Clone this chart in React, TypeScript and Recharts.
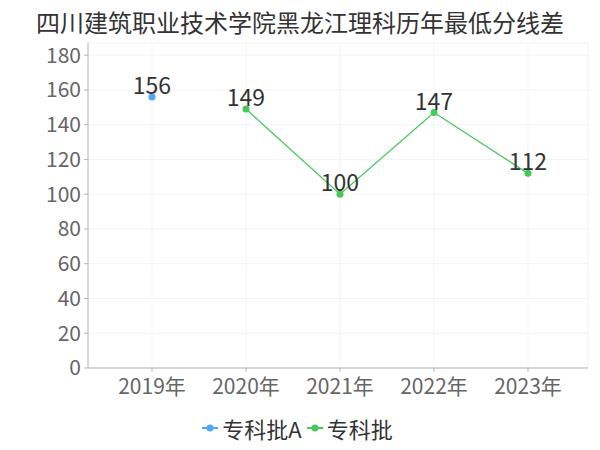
import { LineChart, Line, XAxis, YAxis, CartesianGrid, LabelList } from "recharts";

const years = ["2019年", "2020年", "2021年", "2022年", "2023年"];
const seriesA = [156, null, null, null, null];
const seriesB = [null, 149, 100, 147, 112];
const yTicks = [0, 20, 40, 60, 80, 100, 120, 140, 160, 180];

const BLUE = "#4ea8f7";
const GREEN = "#45c85a";
const FONT = '"Noto Sans CJK SC", "Noto Sans", sans-serif';

const data = years.map((year, i) => ({ year, a: seriesA[i], b: seriesB[i] }));

function LegendItem({ color, label }: { color: string; label: string }) {
  return (
    <span style={{ display: "inline-flex", alignItems: "center", marginRight: 5 }}>
      <svg width={16} height={10} style={{ marginRight: 4 }}>
        <line x1={0} y1={5} x2={16} y2={5} stroke={color} strokeWidth={2} />
        <circle cx={8} cy={5} r={3.5} fill={color} />
      </svg>
      <span>{label}</span>
    </span>
  );
}

export default function App() {
  return (
    <div style={{ position: "relative", width: 600, height: 450, margin: -8, fontFamily: FONT, background: "#fff" }}>
      <div
        style={{
          position: "absolute", top: 4, left: 0, width: 600, textAlign: "center",
          fontSize: 24, color: "#333",
        }}
      >
        四川建筑职业技术学院黑龙江理科历年最低分线差
      </div>
      <LineChart width={600} height={450} data={data} margin={{ top: 43, right: 12, bottom: 52, left: 0 }}>
        <CartesianGrid stroke="#f3f3f3" vertical horizontal />
        <XAxis
          dataKey="year"
          padding={{ left: 64, right: 60 }}
          height={30}
          tick={{ fill: "#666", fontSize: 21, fontFamily: FONT }}
          tickSize={4}
          tickMargin={7}
          stroke="#b5b5b5"
        />
        <YAxis
          width={88}
          domain={[0, 187]}
          ticks={yTicks}
          interval={0}
          tick={{ fill: "#666", fontSize: 21, fontFamily: FONT }}
          tickSize={4}
          tickMargin={3}
          stroke="#b5b5b5"
        />
        <Line
          dataKey="a"
          name="专科批A"
          stroke={BLUE}
          strokeWidth={1.3}
          dot={{ r: 3.5, fill: BLUE, stroke: BLUE, strokeWidth: 0 }}
          isAnimationActive={false}
        >
          <LabelList dataKey="a" position="top" offset={3} fill="#333" fontSize={23} fontFamily={FONT} />
        </Line>
        <Line
          dataKey="b"
          name="专科批"
          stroke={GREEN}
          strokeWidth={1.3}
          dot={{ r: 3.5, fill: GREEN, stroke: GREEN, strokeWidth: 0 }}
          isAnimationActive={false}
        >
          <LabelList dataKey="b" position="top" offset={3} fill="#333" fontSize={23} fontFamily={FONT} />
        </Line>
      </LineChart>
      <div
        style={{
          position: "absolute", top: 412, left: 0, width: 600, height: 32, display: "flex",
          justifyContent: "center", alignItems: "center", fontSize: 22, lineHeight: "32px", color: "#333",
        }}
      >
        <LegendItem color={BLUE} label="专科批A" />
        <LegendItem color={GREEN} label="专科批" />
      </div>
    </div>
  );
}
